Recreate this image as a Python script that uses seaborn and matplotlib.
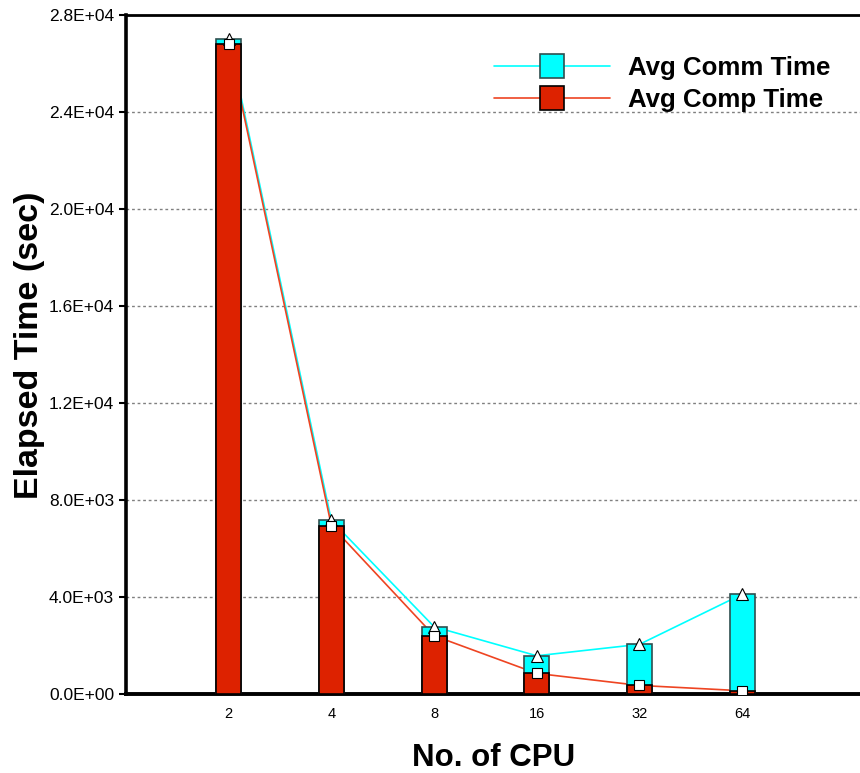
import numpy as np
import pandas as pd
import matplotlib
matplotlib.use("Agg")
import matplotlib.pyplot as plt
import seaborn as sns
from matplotlib.lines import Line2D
from matplotlib.ticker import FuncFormatter, MultipleLocator

# data
cpus = ["2", "4", "8", "16", "32", "64"]
comp_time = [26820, 6940, 2410, 855, 360, 140]
comm_time = [180, 220, 370, 727, 1693, 3978]

total_time = [c + m for c, m in zip(comp_time, comm_time)]
df = pd.DataFrame({"cpu": cpus, "comp": comp_time, "total": total_time})

sns.set_style("white")
plt.rcParams["font.family"] = ["Liberation Sans", "DejaVu Sans"]
plt.rcParams.update({"text.color": "black", "axes.labelcolor": "black",
                     "xtick.color": "black", "ytick.color": "black"})

cyan = "#00FFFF"
red = "#DD2200"
red_line = "#EE4422"

fig = plt.figure(figsize=(8.6, 7.73), dpi=100)
ax = fig.add_axes([0.1465, 0.102, 0.855, 0.8786])

bar_w = 0.244
sns.barplot(data=df, x="cpu", y="total", order=cpus, color=cyan, saturation=1,
            width=bar_w, edgecolor="#2f4f4f", linewidth=1.2, ax=ax, zorder=3)
sns.barplot(data=df, x="cpu", y="comp", order=cpus, color=red, saturation=1,
            width=bar_w, edgecolor="black", linewidth=1.2, ax=ax, zorder=3)

pos = np.arange(len(cpus))
ax.plot(pos, total_time, color=cyan, lw=1.2, zorder=2)
ax.plot(pos, comp_time, color=red_line, lw=1.2, zorder=2)
ax.plot(pos, total_time, ls="none", marker="^", ms=8, mfc="white", mec="black",
        mew=0.8, zorder=5)
ax.plot(pos, comp_time, ls="none", marker="s", ms=6.5, mfc="white", mec="black",
        mew=0.8, zorder=5)

ax.set_xlim(-1.0, 6.16)
ax.set_ylim(0, 28000)
ax.yaxis.set_major_locator(MultipleLocator(4000))
ax.yaxis.set_major_formatter(FuncFormatter(lambda v, p: f"{v:.1E}"))

for v in range(4000, 28000, 4000):
    ax.axhline(v, color="#808080", lw=1.0, ls=(0, (2, 2)), zorder=1)

ax.tick_params(axis="y", left=True, length=5, width=1.5, pad=3.5,
               labelsize=12.5, colors="black")
ax.tick_params(axis="x", bottom=False, length=0, pad=9, labelsize=10.5,
               colors="black")

for side in ["left", "bottom", "top"]:
    ax.spines[side].set_visible(True)
    ax.spines[side].set_color("black")
ax.spines["left"].set_linewidth(2.6)
ax.spines["bottom"].set_linewidth(2.8)
ax.spines["top"].set_linewidth(2.0)
ax.spines["right"].set_visible(False)

ax.set_xlabel("No. of CPU", fontsize=22.5, fontweight="bold", labelpad=16)
ax.set_ylabel("Elapsed Time (sec)", fontsize=24.5, fontweight="bold")
ax.yaxis.set_label_coords(-0.110, 0.514)

handles = [
    (Line2D([], [], color=cyan, lw=1.2),
     Line2D([], [], ls="none", marker="s", ms=17, mfc=cyan, mec="#2f4f4f", mew=1.2)),
    (Line2D([], [], color=red_line, lw=1.2),
     Line2D([], [], ls="none", marker="s", ms=17, mfc=red, mec="black", mew=1.2)),
]
leg = ax.legend(handles, ["Avg Comm Time", "Avg Comp Time"], loc="upper right",
                bbox_to_anchor=(0.99, 0.974), frameon=False, handlelength=4.5,
                handletextpad=0.7, labelspacing=0.33,
                prop={"size": 18.6, "weight": "bold"})

fig.savefig("out.png", dpi=100)
